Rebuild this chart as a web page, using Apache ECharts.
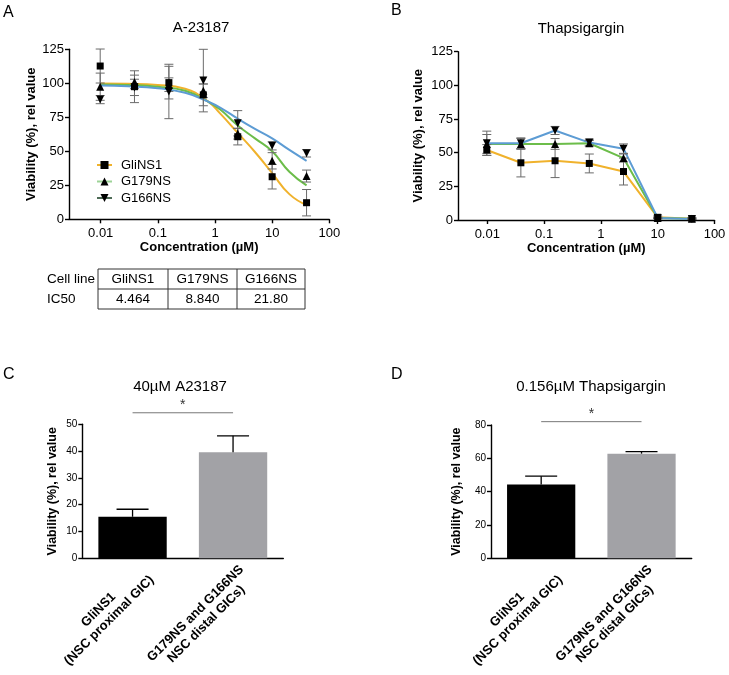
<!DOCTYPE html>
<html><head><meta charset="utf-8">
<script src="https://cdn.jsdelivr.net/npm/echarts@6/dist/echarts.min.js"></script>
<style>html,body{margin:0;padding:0;background:#fff}#c{width:729px;height:675px}</style>
</head><body><div id="c"></div>
<script>
// ---------- data ----------
const seriesNames = ['GliNS1', 'G179NS', 'G166NS'];
const concentrations = [0.0098, 0.039, 0.156, 0.625, 2.5, 10, 40];
const logTicks = [0.01, 0.1, 1, 10, 100];

// Panel A: A-23187 (mean, error)
const aGliNS1 = [112.7, 97.5, 100.5, 91.5, 60.7, 31.3, 12.2];
const aGliNS1Err = [12.5, 11.7, 12, 8, 6, 9, 9.7];
const aG179NS = [97.5, 101, 99, 94.5, 63, 43, 31.8];
const aG179NSErr = [10, 5, 5, 5, 4, 6, 4.4];
const aG166NS = [88, 97, 94, 102, 70.6, 54, 48.5];
const aG166NSErr = [3, 6, 20, 23, 9.3, 3, 2.7];

// Panel A fitted curves
const fitX = [0.0098, 0.03, 0.1, 0.3, 0.76, 1.25, 2.5, 5, 10, 20, 40];
const fitGliNS1 = [99.8, 99.6, 98.8, 96, 86.5, 77.5, 63.5, 49.5, 34, 18.5, 10.5];
const fitG179NS = [99.2, 98.8, 97.5, 94.5, 86.5, 80.5, 69, 59.5, 50, 35, 25];
const fitG166NS = [98.3, 97.8, 96.3, 93, 86.5, 82, 74, 66.5, 59.5, 51, 43];

// Panel B: Thapsigargin
const bGliNS1 = [52, 42.5, 44, 42, 36, 2, 1];
const bGliNS1Err = [4, 10.5, 12.5, 7, 10, 1, 0.5];
const bG179NS = [56.5, 56.5, 56.5, 57, 46, 1.5, 1];
const bG179NSErr = [7, 4, 4, 2, 3, 0.5, 0.5];
const bG166NS = [57, 57, 66.5, 57.5, 53, 1.5, 0.8];
const bG166NSErr = [9, 4, 3, 2.5, 3.5, 0.5, 0.5];

// IC50 table
const tableHeader = ['Cell line', 'GliNS1', 'G179NS', 'G166NS'];
const tableRowLabel = 'IC50';
const ic50Values = ['4.464', '8.840', '21.80'];

// Panels C, D
const barCategories = ['GliNS1\n(NSC proximal GIC)', 'G179NS and G166NS\nNSC distal GICs)'];
const barC = [15.5, 39.6];
const barCErr = [2.8, 6.1];
const barD = [44.3, 62.8];
const barDErr = [5.0, 1.2];
const sigC = 54.3;
const sigD = 82;

// ---------- styling ----------
const FONT = 'Liberation Sans, Arial, sans-serif';
const YEL = '#F0B22C', GRN = '#6CBD4A', BLU = '#5D9CD4';
const lineColors = [YEL, GRN, BLU];
const legendLineColors = [YEL, '#9DD397', '#4E6B56'];
const symbols = ['rect', 'triangle', 'triangle'];
const symRot = [0, 0, 180];
const symSize = [7, 8, 8];

const chart = echarts.init(document.getElementById('c'), null, {renderer: 'canvas'});

// measure label widths for centred multi-line rotated labels
const mctx = document.createElement('canvas').getContext('2d');
mctx.font = 'bold 13px "Liberation Sans", Arial, sans-serif';
const labelWidths = barCategories.map(c => Math.ceil(Math.max(...c.split('\n').map(s => mctx.measureText(s).width))));
const labelRich = {};
labelWidths.forEach((w, i) => {
  labelRich['a' + i] = {width: w, align: 'center', fontSize: 13, fontWeight: 'bold', fontFamily: FONT, color: '#000', lineHeight: 15};
});

function logLabel(v) {
  const l = Math.log10(v);
  if (Math.abs(l - Math.round(l)) > 1e-6) return '';
  const r = Math.round(l);
  return r < 0 ? (Math.pow(10, r)).toFixed(-r) : String(Math.pow(10, r));
}

function errSeries(xi, yi, xs, means, errs) {
  return {
    type: 'custom', xAxisIndex: xi, yAxisIndex: yi, silent: true, z: 3,
    data: xs.map((x, i) => [x, means[i] - errs[i], means[i] + errs[i]]),
    encode: {x: 0, y: [1, 2]},
    renderItem(params, api) {
      const lo = api.coord([api.value(0), api.value(1)]);
      const hi = api.coord([api.value(0), api.value(2)]);
      const w = 4.5, st = {stroke: '#6a6a6a', lineWidth: 1};
      return {type: 'group', children: [
        {type: 'line', shape: {x1: lo[0], y1: lo[1], x2: hi[0], y2: hi[1]}, style: st},
        {type: 'line', shape: {x1: lo[0] - w, y1: lo[1], x2: lo[0] + w, y2: lo[1]}, style: st},
        {type: 'line', shape: {x1: hi[0] - w, y1: hi[1], x2: hi[0] + w, y2: hi[1]}, style: st}
      ]};
    }
  };
}

function barErrSeries(xi, yi, means, errs) {
  return {
    type: 'custom', xAxisIndex: xi, yAxisIndex: yi, silent: true, z: 3,
    data: means.map((m, i) => [i, m, m + errs[i]]),
    encode: {x: 0, y: [1, 2]},
    renderItem(params, api) {
      const lo = api.coord([api.value(0), api.value(1)]);
      const hi = api.coord([api.value(0), api.value(2)]);
      const w = 16, st = {stroke: '#000', lineWidth: 1.3};
      return {type: 'group', children: [
        {type: 'line', shape: {x1: lo[0], y1: lo[1], x2: hi[0], y2: hi[1]}, style: st},
        {type: 'line', shape: {x1: hi[0] - w, y1: hi[1], x2: hi[0] + w, y2: hi[1]}, style: st}
      ]};
    }
  };
}

function sigSeries(xi, yi, level) {
  return {
    type: 'custom', xAxisIndex: xi, yAxisIndex: yi, silent: true, z: 3, clip: false,
    data: [[0, 1, level]],
    encode: {x: 0, y: 2},
    renderItem(params, api) {
      const a = api.coord([0, api.value(2)]);
      const b = api.coord([1, api.value(2)]);
      return {type: 'group', children: [
        {type: 'line', shape: {x1: a[0], y1: a[1], x2: b[0], y2: b[1]}, style: {stroke: '#777', lineWidth: 1}},
        {type: 'text', style: {text: '*', x: (a[0] + b[0]) / 2, y: a[1] - 1, align: 'center', verticalAlign: 'bottom', fontSize: 14, fontFamily: FONT, fill: '#333'}}
      ]};
    }
  };
}

const axisLine = {lineStyle: {color: '#000', width: 1.4}};
const axisTick = {length: 4, lineStyle: {color: '#000', width: 1.4}};

function logXAxis(gi, min) {
  return {
    type: 'log', logBase: 10, gridIndex: gi, min: min, max: 100,
    axisLine, axisTick: Object.assign({customValues: logTicks}, axisTick),
    splitLine: {show: false}, minorTick: {show: false},
    axisLabel: {customValues: logTicks, formatter: logLabel, fontSize: 13, fontFamily: FONT, color: '#000', margin: 8},
    name: 'Concentration (µM)', nameLocation: 'middle', nameGap: 21,
    nameTextStyle: {fontSize: 13, fontWeight: 'bold', fontFamily: FONT, color: '#000'}
  };
}
function valYAxis(gi, max, interval, fs, gap, nfs) {
  return {
    type: 'value', gridIndex: gi, min: 0, max: max, interval: interval,
    axisLine: Object.assign({show: true}, axisLine), axisTick: Object.assign({show: true}, axisTick),
    splitLine: {show: false},
    axisLabel: {fontSize: fs, fontFamily: FONT, color: '#000', margin: 5},
    name: 'Viability (%), rel value', nameLocation: 'middle', nameGap: gap,
    nameTextStyle: {fontSize: nfs, fontWeight: 'bold', fontFamily: FONT, color: '#000'}
  };
}
function catXAxis(gi) {
  return {
    type: 'category', gridIndex: gi, data: barCategories,
    axisLine, axisTick: {show: false},
    axisLabel: {
      interval: 0, rotate: 45, margin: 0, verticalAlign: 'top', padding: [5, 0, 0, 0],
      formatter: (v, idx) => v.split('\n').map(s => '{a' + idx + '|' + s + '}').join('\n'),
      rich: labelRich
    }
  };
}

const aMeans = [aGliNS1, aG179NS, aG166NS], aErrs = [aGliNS1Err, aG179NSErr, aG166NSErr];
const bMeans = [bGliNS1, bG179NS, bG166NS], bErrs = [bGliNS1Err, bG179NSErr, bG166NSErr];
const fits = [fitGliNS1, fitG179NS, fitG166NS];

const series = [];
fits.forEach((f, i) => series.push({
  type: 'line', name: seriesNames[i] + ' fit', xAxisIndex: 0, yAxisIndex: 0, smooth: 0.5,
  symbol: 'none', silent: true, z: 2,
  data: fitX.map((x, j) => [x, f[j]]),
  lineStyle: {color: lineColors[i], width: 2}
}));
aMeans.forEach((m, i) => series.push(errSeries(0, 0, concentrations, m, aErrs[i])));
aMeans.forEach((m, i) => series.push({
  type: 'line', name: seriesNames[i], xAxisIndex: 0, yAxisIndex: 0, z: 4,
  symbol: symbols[i], symbolRotate: symRot[i], symbolSize: symSize[i],
  itemStyle: {color: '#000'}, lineStyle: {opacity: 0, color: legendLineColors[i]},
  data: concentrations.map((x, j) => [x, m[j]])
}));
bMeans.forEach((m, i) => series.push({
  type: 'line', name: 'B ' + seriesNames[i], xAxisIndex: 1, yAxisIndex: 1, z: 2,
  symbol: 'none', silent: true,
  lineStyle: {color: lineColors[i], width: 2},
  data: concentrations.map((x, j) => [x, m[j]])
}));
bMeans.forEach((m, i) => series.push(errSeries(1, 1, concentrations, m, bErrs[i])));
bMeans.forEach((m, i) => series.push({
  type: 'scatter', name: 'Bm ' + seriesNames[i], xAxisIndex: 1, yAxisIndex: 1, z: 4,
  symbol: symbols[i], symbolRotate: symRot[i], symbolSize: symSize[i],
  itemStyle: {color: '#000', opacity: 1},
  data: concentrations.map((x, j) => [x, m[j]])
}));
const barColors = ['#000000', '#A2A2A6'];
[[2, barC, barCErr, sigC], [3, barD, barDErr, sigD]].forEach(([g, vals, errs, sig]) => {
  series.push({
    type: 'bar', xAxisIndex: g, yAxisIndex: g, barWidth: '68%', silent: true, z: 2,
    data: vals.map((v, i) => ({value: v, itemStyle: {color: barColors[i]}}))
  });
  series.push(barErrSeries(g, g, vals, errs));
  series.push(sigSeries(g, g, sig));
});

const titleStyle = {fontSize: 15, fontWeight: 'normal', fontFamily: FONT, color: '#000'};
const letterStyle = {fontSize: 16, fontWeight: 'normal', fontFamily: FONT, color: '#000'};

// IC50 table
const tx = [98, 168, 237, 305], ty = [269, 289, 309];
const tableGraphics = [];
const ts = {stroke: '#333', lineWidth: 1};
tableGraphics.push({type: 'rect', shape: {x: tx[0], y: ty[0], width: tx[3] - tx[0], height: ty[2] - ty[0]}, style: {fill: 'none', stroke: '#333', lineWidth: 1}});
tableGraphics.push({type: 'line', shape: {x1: tx[0], y1: ty[1], x2: tx[3], y2: ty[1]}, style: ts});
[1, 2].forEach(k => tableGraphics.push({type: 'line', shape: {x1: tx[k], y1: ty[0], x2: tx[k], y2: ty[2]}, style: ts}));
const cellFont = {fontSize: 13.5, fontFamily: FONT, fill: '#000'};
tableGraphics.push({type: 'text', x: 47, y: (ty[0] + ty[1]) / 2, style: Object.assign({text: tableHeader[0], verticalAlign: 'middle', align: 'left'}, cellFont)});
tableGraphics.push({type: 'text', x: 47, y: (ty[1] + ty[2]) / 2, style: Object.assign({text: tableRowLabel, verticalAlign: 'middle', align: 'left'}, cellFont)});
for (let k = 0; k < 3; k++) {
  const cx = (tx[k] + tx[k + 1]) / 2;
  tableGraphics.push({type: 'text', x: cx, y: (ty[0] + ty[1]) / 2, style: Object.assign({text: tableHeader[k + 1], verticalAlign: 'middle', align: 'center'}, cellFont)});
  tableGraphics.push({type: 'text', x: cx, y: (ty[1] + ty[2]) / 2, style: Object.assign({text: ic50Values[k], verticalAlign: 'middle', align: 'center'}, cellFont)});
}

const gridBase = {outerBoundsMode: 'none', containLabel: false};
const option = {
  animation: false,
  backgroundColor: '#fff',
  title: [
    {text: 'A', left: 3, top: 5, padding: 0, textStyle: letterStyle},
    {text: 'B', left: 391, top: 3, padding: 0, textStyle: letterStyle},
    {text: 'C', left: 3, top: 367, padding: 0, textStyle: letterStyle},
    {text: 'D', left: 391, top: 367, padding: 0, textStyle: letterStyle},
    {text: 'A-23187', left: 201, top: 20.5, textAlign: 'center', padding: 0, textStyle: titleStyle},
    {text: 'Thapsigargin', left: 581, top: 21, textAlign: 'center', padding: 0, textStyle: titleStyle},
    {text: '40µM A23187', left: 180, top: 379.5, textAlign: 'center', padding: 0, textStyle: titleStyle},
    {text: '0.156µM Thapsigargin', left: 591, top: 379, textAlign: 'center', padding: 0, textStyle: titleStyle}
  ],
  legend: {
    left: 91, top: 153, orient: 'vertical', itemWidth: 15, itemHeight: 10, itemGap: 2.5,
    selectedMode: false,
    textStyle: {fontSize: 13, fontFamily: FONT, color: '#000', lineHeight: 14, padding: [0, 0, 0, 4]},
    data: seriesNames.map((n, i) => ({name: n, lineStyle: {color: legendLineColors[i], opacity: 1, width: 2}}))
  },
  grid: [
    Object.assign({left: 69, top: 49.3, width: 260.3, height: 170}, gridBase),
    Object.assign({left: 458, top: 51.7, width: 256.5, height: 168.3}, gridBase),
    Object.assign({left: 82.3, top: 424.3, width: 201, height: 134}, gridBase),
    Object.assign({left: 491, top: 425, width: 200.7, height: 133.3}, gridBase)
  ],
  xAxis: [logXAxis(0, 0.002789), logXAxis(1, 0.00305), catXAxis(2), catXAxis(3)],
  yAxis: [
    valYAxis(0, 125, 25, 13, 30, 13),
    valYAxis(1, 125, 25, 13, 33, 13),
    valYAxis(2, 50, 10, 10, 23.5, 12.5),
    valYAxis(3, 80, 20, 10, 27.5, 12.5)
  ],
  graphic: tableGraphics,
  series: series
};
chart.setOption(option);
</script>
</body></html>
